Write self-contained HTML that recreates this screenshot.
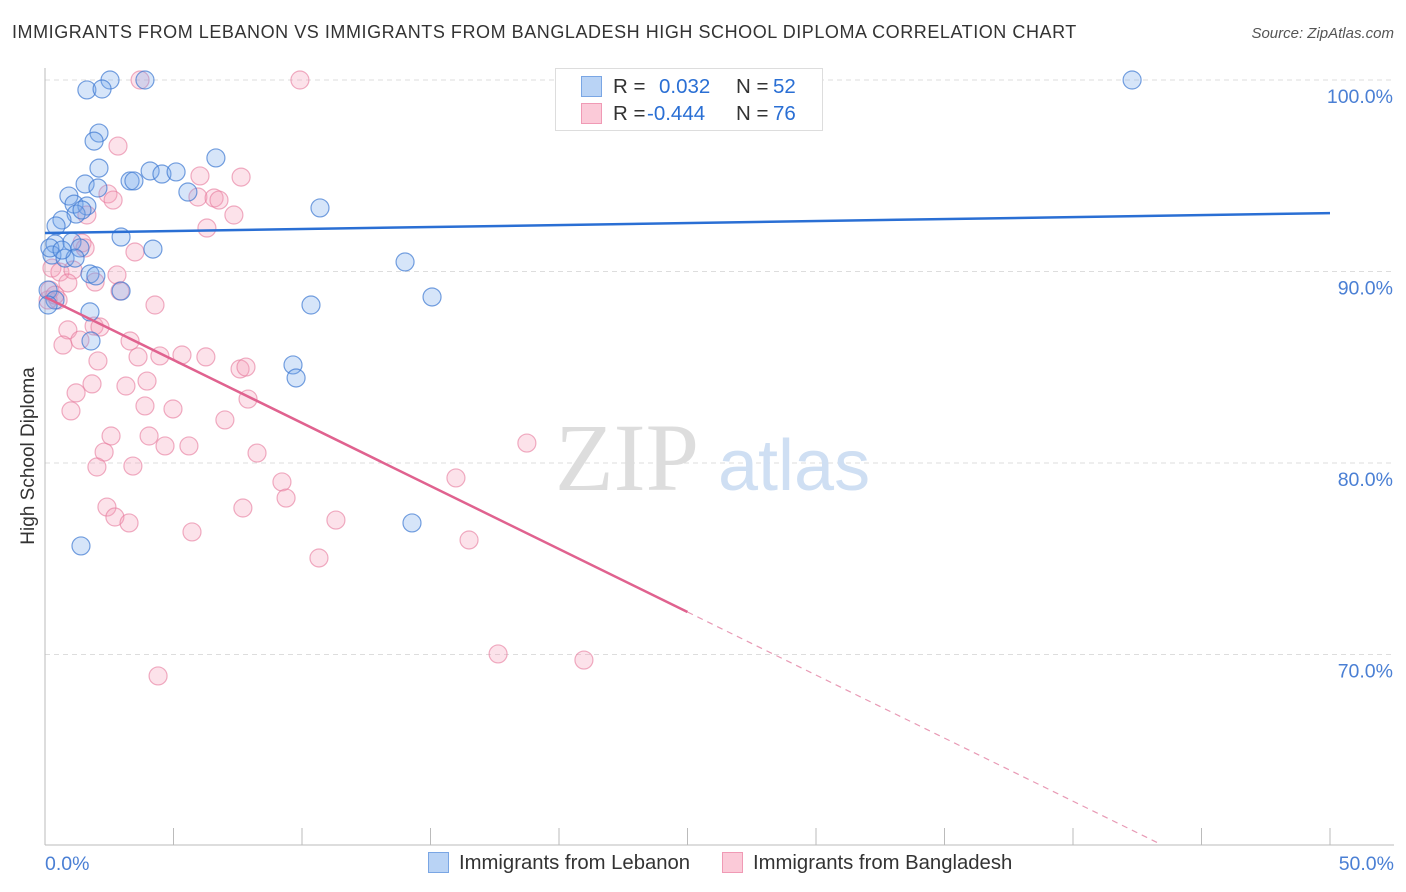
<!DOCTYPE html>
<html><head><meta charset="utf-8">
<style>
body{margin:0;background:#fff;font-family:"Liberation Sans",sans-serif;}
#wrap{position:relative;width:1406px;height:892px;overflow:hidden;}
.t{position:absolute;white-space:nowrap;}
</style></head>
<body>
<div id="wrap">
<div class="t" style="left:12px;top:22px;font-size:18px;letter-spacing:0.55px;color:#333;">IMMIGRANTS FROM LEBANON VS IMMIGRANTS FROM BANGLADESH HIGH SCHOOL DIPLOMA CORRELATION CHART</div>
<div class="t" style="right:12px;top:25px;font-size:15px;color:#555;font-style:italic;">Source: ZipAtlas.com</div>
<svg id="svg" width="1406" height="892" style="position:absolute;left:0;top:0"></svg>
</div>
<script>
const xTickLabels=["0.0%","50.0%"];
const yTicks=[100,90,80,70];
const yTickLabels=["100.0%","90.0%","80.0%","70.0%"];
const lebX=[2.53,3.89,1.63,2.22,2.10,1.91,2.10,6.65,4.09,4.55,5.10,3.31,3.46,1.56,2.06,5.56,0.93,1.13,1.63,1.21,1.44,0.66,0.43,10.70,2.96,4.20,0.39,1.05,1.36,0.27,0.78,1.17,1.75,1.98,14.01,2.96,15.06,0.12,10.35,1.75,1.79,9.65,9.77,14.28,1.40,42.30,0.19,0.66,0.39,0.12];
const lebY=[100,100,99.48,99.53,97.23,96.81,95.40,95.93,95.25,95.09,95.20,94.73,94.73,94.57,94.36,94.15,93.94,93.52,93.42,93.00,93.21,92.69,92.38,93.32,91.80,91.17,91.44,91.54,91.23,90.86,90.70,90.70,89.87,89.77,90.50,88.98,88.67,89.03,88.25,87.89,86.37,85.12,84.44,76.87,75.67,100,91.23,91.12,88.51,88.25];
const banX=[3.70,9.92,2.84,6.03,7.63,2.45,2.65,5.95,6.58,6.77,7.35,1.63,6.30,1.44,1.56,3.50,0.27,0.58,1.09,2.80,0.89,1.95,2.92,0.51,4.28,0.12,1.91,0.89,2.14,0.70,1.36,3.31,3.62,4.47,5.33,6.26,2.06,1.83,3.15,3.97,7.59,7.82,1.21,7.90,3.89,4.98,1.01,7.00,2.57,4.05,4.67,5.60,18.75,2.30,8.25,2.02,3.42,15.99,9.22,9.38,2.41,2.72,3.27,7.70,11.32,5.72,16.50,10.66,17.63,20.97,4.40,0.19,0.39];
const banY=[100,100,96.55,94.99,94.93,94.05,93.73,93.89,93.84,93.73,92.95,92.95,92.27,91.49,91.23,91.02,90.18,89.97,90.08,89.82,89.40,89.45,88.98,88.51,88.25,88.51,87.15,86.95,87.10,86.16,86.42,86.37,85.54,85.59,85.64,85.54,85.33,84.13,84.02,84.28,84.91,85.01,83.66,83.34,82.98,82.82,82.72,82.25,81.41,81.41,80.89,80.89,81.04,80.57,80.52,79.79,79.84,79.22,79.01,78.17,77.70,77.18,76.87,77.65,77.02,76.40,75.98,75.04,70.03,69.71,68.88,89.03,88.77];
const lebTrend=[92.01,93.05];
const banTrend=[88.67,72.22,60.1];
const banTrendX=[0,25,43.4];

const X=v=>45+v*25.7, Y=v=>80+(100-v)*19.15;
const svg=document.getElementById('svg');const NS='http://www.w3.org/2000/svg';
function mk(tag,at,parent){const e=document.createElementNS(NS,tag);for(const k in at)e.setAttribute(k,at[k]);(parent||svg).appendChild(e);return e;}
yTicks.forEach((t,i)=>{
 const g=mk('line',{x1:45,x2:1394,y1:Y(t),y2:Y(t),stroke:'#ddd','stroke-dasharray':'5,4'});
 
 
 const tx=mk('text',{x:1393,y:Y(t)+23,'text-anchor':'end',fill:'#4a7fd4','font-size':19.5,'font-family':'Liberation Sans'});
 tx.textContent=yTickLabels[i];
 
 
});
const ax=mk('line',{x1:45,x2:45,y1:68,y2:845,stroke:'#bbb'});


const bx=mk('line',{x1:45,x2:1394,y1:845,y2:845,stroke:'#bbb'});


for(let i=0;i<=10;i++){const tk=mk('line',{x1:X(i*5),x2:X(i*5),y1:828,y2:845,stroke:'#bbb'});
 
 }
const xl0=mk('text',{x:45,y:870,fill:'#4a7fd4','font-size':19.5,'font-family':'Liberation Sans'});xl0.textContent=xTickLabels[0];


const xl1=mk('text',{x:1394,y:870,'text-anchor':'end',fill:'#4a7fd4','font-size':19.5,'font-family':'Liberation Sans'});xl1.textContent=xTickLabels[1];


const yt=mk('text',{x:34,y:456,transform:'rotate(-90 34 456)','text-anchor':'middle',fill:'#333','font-size':19,'font-family':'Liberation Sans'});yt.textContent='High School Diploma';


const wm=mk('text',{x:555,y:490,fill:'#ddd','font-size':96,'font-family':'Liberation Serif'});wm.textContent='ZIP';


const wm2=mk('text',{x:718,y:490,fill:'#cfdff3','font-size':72,'font-family':'Liberation Sans'});wm2.textContent='atlas';


banX.forEach((v,i)=>{const c=mk('circle',{cx:X(v),cy:Y(banY[i]),r:9,fill:'rgba(244,160,185,0.3)',stroke:'rgba(230,120,155,0.6)','stroke-width':1.2});
 
 });
lebX.forEach((v,i)=>{const c=mk('circle',{cx:X(v),cy:Y(lebY[i]),r:9,fill:'rgba(120,170,235,0.3)',stroke:'rgba(60,120,210,0.7)','stroke-width':1.2});
 
 });
const lt=mk('line',{x1:X(0),y1:Y(lebTrend[0]),x2:X(50),y2:Y(lebTrend[1]),stroke:'#2a6fd4','stroke-width':2.5});


const pt=mk('line',{x1:X(banTrendX[0]),y1:Y(banTrend[0]),x2:X(banTrendX[1]),y2:Y(banTrend[1]),stroke:'#e0628f','stroke-width':2.5});


const pd=mk('line',{x1:X(banTrendX[1]),y1:Y(banTrend[1]),x2:X(banTrendX[2]),y2:Y(banTrend[2]),stroke:'#e89ab5','stroke-width':1.2,'stroke-dasharray':'6,5'});


</script>
<div class="t" style="left:555px;top:68px;width:266px;height:61px;border:1px solid #ddd;background:#fff;font-size:20.5px;">
 <div style="position:absolute;left:25px;top:7px;width:19px;height:19px;background:#b9d3f5;border:1px solid #7aa6e4;"></div>
 <div class="t" style="left:57px;top:6px;color:#333">R =</div>
 <div class="t" style="left:103px;top:6px;color:#2a6fd4">0.032</div>
 <div class="t" style="left:180px;top:6px;color:#333">N =</div>
 <div class="t" style="left:217px;top:6px;color:#2a6fd4">52</div>
 <div style="position:absolute;left:25px;top:34px;width:19px;height:19px;background:#fbcad8;border:1px solid #f09ab5;"></div>
 <div class="t" style="left:57px;top:33px;color:#333">R =</div>
 <div class="t" style="left:91px;top:33px;color:#2a6fd4">-0.444</div>
 <div class="t" style="left:180px;top:33px;color:#333">N =</div>
 <div class="t" style="left:217px;top:33px;color:#2a6fd4">76</div>
</div>
<div class="t" style="left:428px;top:852px;font-size:20.3px;color:#333;">
 <span style="display:inline-block;width:19px;height:19px;background:#b9d3f5;border:1px solid #7aa6e4;vertical-align:-4px;margin-right:10px"></span>Immigrants from Lebanon</div>
<div class="t" style="left:722px;top:852px;font-size:20.3px;color:#333;">
 <span style="display:inline-block;width:19px;height:19px;background:#fbcad8;border:1px solid #f09ab5;vertical-align:-4px;margin-right:10px"></span>Immigrants from Bangladesh</div>
</body></html>
